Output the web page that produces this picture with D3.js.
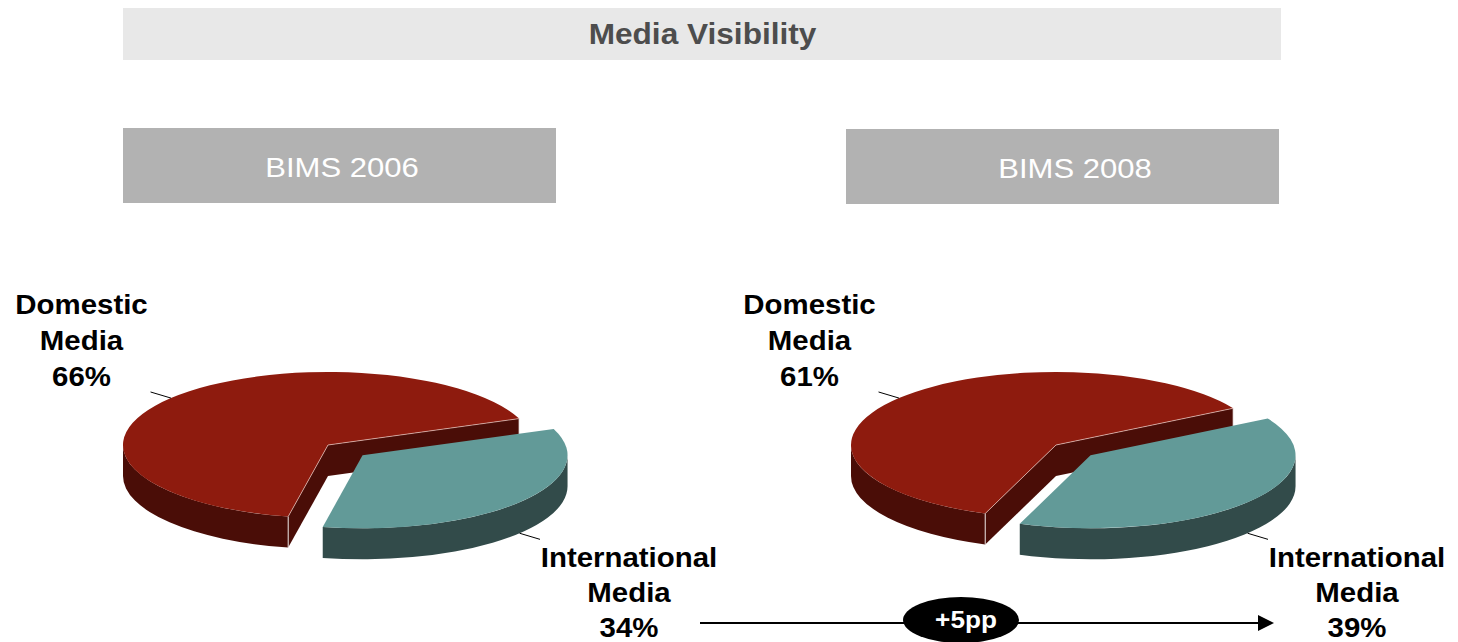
<!DOCTYPE html>
<html>
<head>
<meta charset="utf-8">
<script src="https://cdn.jsdelivr.net/npm/d3@7/dist/d3.min.js"></script>
<style>
html,body{margin:0;padding:0;background:#fff;}
svg{display:block;}
text{font-family:"Liberation Sans",Arial,Helvetica,sans-serif;}
</style>
</head>
<body>
<svg id="chart" width="1458" height="642"></svg>
<script>
// ---- data ----
const chartTitle = "Media Visibility";
const years = ["BIMS 2006", "BIMS 2008"];
const categories = ["Domestic Media", "International Media"];
const domesticShare = [66, 61];
const internationalShare = [34, 39];
const changeLabel = "+5pp";

// ---- layout / style ----
const W = 1458, H = 642;
const colors = {
  domesticTop: "#8e1b0e", domesticSide: "#4a0d07",
  intlTop: "#629a98", intlSide: "#324b4a"
};
const pieCx = [328, 1056], pieCy = 445, rx = 205, ry = 73, depth = 31, explode = 0.22;
const xStretch = 1.09;

const svg = d3.select("#chart");

// title bar
svg.append("rect").attr("x", 123).attr("y", 8).attr("width", 1158).attr("height", 52).attr("fill", "#e8e8e8");
svg.append("text").attr("transform", `translate(702.5,44) scale(${xStretch},1)`)
  .attr("text-anchor", "middle").attr("font-size", 29).attr("font-weight", "bold")
  .attr("fill", "#4d4d4d").text(chartTitle);

// year boxes
const boxX = [123, 846], boxY = [128, 129], textCx = [342, 1075];
years.forEach((y, i) => {
  svg.append("rect").attr("x", boxX[i]).attr("y", boxY[i]).attr("width", 433).attr("height", 75).attr("fill", "#b2b2b2");
  svg.append("text").attr("transform", `translate(${textCx[i]},${boxY[i] + 49}) scale(${xStretch},1)`)
    .attr("text-anchor", "middle").attr("font-size", 28.5).attr("fill", "#ffffff").text(y);
});

// ---- 3D pies ----
const deg = Math.PI / 180;
const intlCenterAngle = 130 * deg; // d3.pie angle (0 = 12 o'clock) where the international slice is centered

function multiLabel(g, x, y, lines, step) {
  const t = g.append("text").attr("transform", `translate(${x},${y}) scale(${xStretch},1)`)
    .attr("text-anchor", "middle").attr("font-size", 27).attr("font-weight", "bold").attr("fill", "#000");
  lines.forEach((l, k) => t.append("tspan").attr("x", 0).attr("y", k * step).text(l));
}

years.forEach((yr, i) => {
  const g = svg.append("g");
  const data = [
    {key: "intl", label: categories[1], value: internationalShare[i], top: colors.intlTop, side: colors.intlSide},
    {key: "dom", label: categories[0], value: domesticShare[i], top: colors.domesticTop, side: colors.domesticSide}
  ];
  const intlSpan = 2 * Math.PI * data[0].value / d3.sum(data, d => d.value);
  const start = intlCenterAngle - intlSpan / 2;
  const arcs = d3.pie().sort(null).value(d => d.value).startAngle(start).endAngle(start + 2 * Math.PI)(data);

  const cx = pieCx[i], cy = pieCy;
  const order = [arcs[1], arcs[0]];
  order.forEach(a => {
    const t1 = a.startAngle - Math.PI / 2, t2 = a.endAngle - Math.PI / 2;
    let ox = 0, oy = 0;
    if (a.data.key === "intl") {
      const m = (t1 + t2) / 2;
      ox = explode * rx * Math.cos(m); oy = explode * ry * Math.sin(m);
    }
    const x0 = cx + ox, y0 = cy + oy;
    const P = (t, dz = 0, r = 1) => [x0 + r * rx * Math.cos(t), y0 + r * ry * Math.sin(t) + dz];

    for (let k = -1; k <= 1; k++) {
      const a0 = Math.max(t1, 2 * Math.PI * k), b0 = Math.min(t2, 2 * Math.PI * k + Math.PI);
      if (b0 > a0) {
        const pa = P(a0), pb = P(b0), pbd = P(b0, depth), pad = P(a0, depth);
        g.append("path").attr("fill", a.data.side)
          .attr("d", `M${pa}A${rx},${ry} 0 0 1 ${pb}L${pbd}A${rx},${ry} 0 0 0 ${pad}Z`);
      }
    }
    const faces = [];
    if (Math.cos(t1) < 0) faces.push(t1);
    if (Math.cos(t2) > 0) faces.push(t2);
    faces.forEach(t => {
      const p = P(t), pd = P(t, depth);
      g.append("path").attr("fill", a.data.side)
        .attr("d", `M${x0},${y0}L${p}L${pd}L${x0},${y0 + depth}Z`);
      g.append("line").attr("x1", p[0]).attr("y1", p[1]).attr("x2", pd[0]).attr("y2", pd[1])
        .attr("stroke", "#ffffff").attr("stroke-opacity", 0.85).attr("stroke-width", 1);
    });
    const large = (t2 - t1) > Math.PI ? 1 : 0;
    g.append("path").attr("fill", a.data.top)
      .attr("d", `M${x0},${y0}L${P(t1)}A${rx},${ry} 0 ${large} 1 ${P(t2)}Z`);
    faces.forEach(t => {
      const p = P(t);
      g.append("line").attr("x1", x0).attr("y1", y0).attr("x2", p[0]).attr("y2", p[1])
        .attr("stroke", "#f3d6d0").attr("stroke-opacity", 0.8).attr("stroke-width", 0.8);
    });

    const m = (t1 + t2) / 2;
    const dz = Math.sin(m) > 0 ? depth : 0;
    const l1 = P(m, dz, 1.0), l2 = P(m, dz, 1.13);
    g.append("line").attr("x1", l1[0]).attr("y1", l1[1]).attr("x2", l2[0]).attr("y2", l2[1])
      .attr("stroke", "#000").attr("stroke-width", 1);

    const words = a.data.label.split(" ");
    const lines = [words[0], words[1], a.data.value + "%"];
    if (a.data.key === "dom") multiLabel(g, cx - 246.5, 314, lines, 36);
    else multiLabel(g, cx + 301, 567, lines, 35);
  });
});

// ---- change arrow ----
const arrowY = 623;
svg.append("line").attr("x1", 700).attr("y1", arrowY).attr("x2", 1260).attr("y2", arrowY)
  .attr("stroke", "#000").attr("stroke-width", 2);
svg.append("path").attr("d", `M1258,${arrowY - 8}L1274,${arrowY}L1258,${arrowY + 8}Z`).attr("fill", "#000");
svg.append("ellipse").attr("cx", 961).attr("cy", 620).attr("rx", 58).attr("ry", 23).attr("fill", "#000");
svg.append("text").attr("transform", `translate(966,628) scale(${xStretch},1)`)
  .attr("text-anchor", "middle").attr("font-size", 24).attr("font-weight", "bold").attr("fill", "#fff").text(changeLabel);
</script>
</body>
</html>
